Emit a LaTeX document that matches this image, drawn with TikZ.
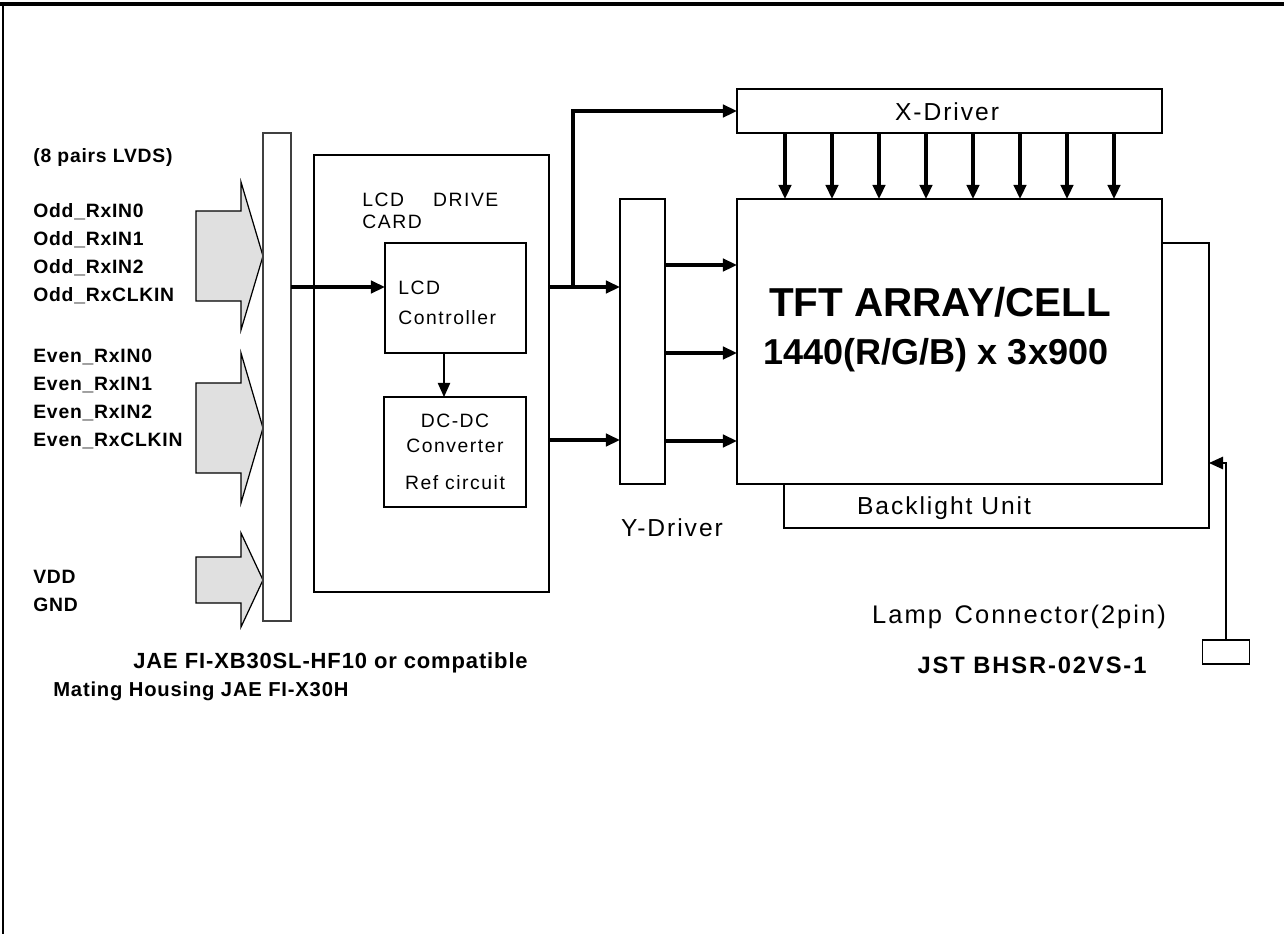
\documentclass[tikz,border=0pt]{standalone}
\usepackage{fontspec}
\setmainfont{Liberation Sans}
\newfontfamily\widefont[LetterSpace=8]{Liberation Sans}
\newfontfamily\labelfont[LetterSpace=4]{Liberation Sans}
\usetikzlibrary{arrows.meta, positioning}

\begin{document}
\begin{tikzpicture}[x=0.02cm, y=-0.02cm,
    box/.style={rectangle, draw, line width=1.1pt, inner sep=0pt, outer sep=0pt},
    arrow/.style={-{Triangle[length=8pt,width=7pt]}, line width=1.9pt},
    thinarrow/.style={-{Triangle[length=8pt,width=7pt]}, line width=0.7pt},
    fatarrow/.style={draw, line width=0.7pt, fill=black!12},
    lbl/.style={anchor=west, inner sep=0pt, font=\labelfont\bfseries\fontsize{11}{13}\selectfont},
    txt/.style={inner sep=0pt, font=\widefont\fontsize{14}{16}\selectfont},
    part/.style={inner sep=0pt, font=\labelfont\bfseries\fontsize{12.5}{15}\selectfont},
]
\useasboundingbox (0,0) rectangle (1284,934);
\draw[line width=2.2pt] (0,4) -- (1284,4);
\draw[line width=1.2pt] (3,4) -- (3,934);

\foreach \a/\b/\c/\d in {211/301/182/330, 383/473/353/503, 557/603/533/627}
    \draw[fatarrow] (196,\a) -- (241,\a) -- (241,\c) -- (263,{(\c+\d)/2}) -- (241,\d) -- (241,\b) -- (196,\b) -- cycle;

\node[box, draw=black!75, line width=0.8pt, minimum width=0.56cm, minimum height=9.76cm] (conn) at (277,377) {};
\node[box, minimum width=4.7cm, minimum height=8.74cm] (card) at (431.5,373.5) {};
\node[box, minimum width=2.82cm, minimum height=2.2cm] (ctrl) at (455.5,298) {};
\node[box, minimum width=2.84cm, minimum height=2.2cm] (dcdc) at (455,452) {};
\node[box, minimum width=0.9cm, minimum height=5.7cm] (ydrv) at (642.5,341.5) {};
\node[box, minimum width=8.5cm, minimum height=0.88cm] (xdrv) at (949.5,111) {};
\node[box, minimum width=8.5cm, minimum height=5.7cm] (blu) at (996.5,385.5) {};
\node[box, fill=white, minimum width=8.5cm, minimum height=5.7cm] (tft) at (949.5,341.5) {};
\node[box, line width=0.8pt, minimum width=0.94cm, minimum height=0.48cm] (lamp) at (1226,652) {};
\coordinate (split) at (573,287);
\coordinate (lampin) at (blu.east |- 0,463);

\node[lbl] (lvds) at (33,157) {(8 pairs LVDS)};
\node[lbl] (odd0) at (33,212) {Odd\_RxIN0};
\node[lbl] (odd1) at (33,240) {Odd\_RxIN1};
\node[lbl] (odd2) at (33,268) {Odd\_RxIN2};
\node[lbl] (oddclk) at (33,296) {Odd\_RxCLKIN};
\node[lbl] (even0) at (33,357) {Even\_RxIN0};
\node[lbl] (even1) at (33,385) {Even\_RxIN1};
\node[lbl] (even2) at (33,413) {Even\_RxIN2};
\node[lbl] (evenclk) at (33,441) {Even\_RxCLKIN};
\node[lbl] (vdd) at (33,577) {VDD};
\node[lbl] (gnd) at (33,605) {GND};

\node[txt, anchor=west, align=left, font=\widefont\fontsize{11}{12.5}\selectfont] (cardname) at (362,211) {LCD\quad\enspace DRIVE\\CARD};
\node[txt, anchor=west, align=left, font=\widefont\fontsize{11}{17}\selectfont] (ctrlname) at (398,303) {LCD\\Controller};
\node[txt, align=center, font=\widefont\fontsize{11}{14}\selectfont] (dcdcname) at (dcdc) {DC-DC\\Converter\\[7pt]Ref circuit};
\node[txt] (xname) at (947,112) {X-Driver};
\node[txt] (yname) at (672,528) {Y-Driver};
\node[txt] (bluname) at (944,508) {Backlight Unit};
\node[inner sep=0pt, font=\bfseries\fontsize{23}{27}\selectfont] (tftname) at (940,302) {TFT ARRAY/CELL};
\node[inner sep=0pt, font=\bfseries\fontsize{20.5}{24}\selectfont] (resname) at (936,355) {1440(R/G/B) x 3x900};
\node[part, anchor=west] (jae) at (133,663) {JAE FI-XB30SL-HF10 or compatible};
\node[part, anchor=west, font=\labelfont\bfseries\fontsize{11.5}{14}\selectfont] (mating) at (53,691) {Mating Housing JAE FI-X30H};
\node[txt, font=\widefont\fontsize{14.5}{17}\selectfont] (lampname) at (1019,617) {Lamp\enspace Connector(2pin)};
\node[part, font=\widefont\bfseries\fontsize{13.5}{16}\selectfont] (jst) at (1032,665) {JST BHSR-02VS-1};

\draw[arrow] (conn.east |- 0,287) -- (ctrl.west |- 0,287);
\draw[thinarrow] (ctrl.south -| 444,0) -- (dcdc.north -| 444,0);
\draw[arrow] (card.east |- 0,287) -- (ydrv.west |- 0,287);
\draw[arrow] (split) |- (xdrv.west);
\draw[arrow] (card.east |- 0,440) -- (ydrv.west |- 0,440);
\foreach \y in {265,353,441}
    \draw[arrow] (ydrv.east |- 0,\y) -- (tft.west |- 0,\y);
\foreach \x in {785,832,879,926,973,1020,1067,1114}
    \draw[arrow] (xdrv.south -| \x,0) -- (tft.north -| \x,0);
\draw[arrow, line width=1.1pt] (lamp.north) |- (lampin);
\end{tikzpicture}
\end{document}
